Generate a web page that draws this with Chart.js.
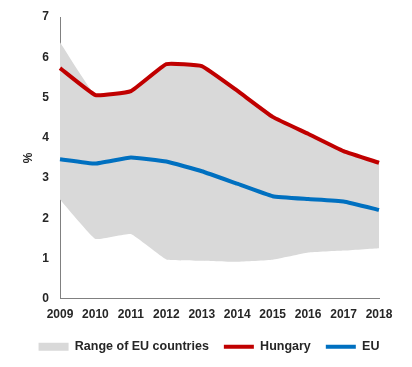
<!DOCTYPE html>
<html>
<head>
<meta charset="utf-8">
<script src="https://cdn.jsdelivr.net/npm/chart.js@4"></script>
<style>
  body { margin: 0; background: #fff; }
  #wrap { width: 412px; height: 367px; }
</style>
</head>
<body>
<div id="wrap"><canvas id="rateChart"></canvas></div>
<script>
"use strict";

const years = ['2009', '2010', '2011', '2012', '2013', '2014', '2015', '2016', '2017', '2018'];
const hungary = [5.73, 5.06, 5.16, 5.83, 5.78, 5.17, 4.52, 4.10, 3.67, 3.38];
const eu = [3.47, 3.36, 3.51, 3.41, 3.17, 2.86, 2.55, 2.48, 2.42, 2.21];
const rangeHigh = [6.37, 5.06, 5.16, 5.83, 5.78, 5.17, 4.52, 4.10, 3.67, 3.38];
const rangeLow = [2.47, 1.49, 1.61, 0.98, 0.95, 0.92, 0.97, 1.15, 1.20, 1.26];
const yTicks = [0, 1, 2, 3, 4, 5, 6, 7];

const textColor = '#262626';
const font = { family: "'Liberation Sans', Arial, sans-serif", size: 12, weight: 'bold' };
const legendFont = { family: "'Liberation Sans', Arial, sans-serif", size: 12.5, weight: 'bold' };

const ctx = document.getElementById('rateChart').getContext('2d');
const myChart = new Chart(ctx, {
  type: 'line',
  data: {
    labels: years,
    datasets: [{
      label: 'Range of EU countries',
      data: rangeHigh,
      borderWidth: 0,
      pointRadius: 0,
      backgroundColor: '#d9d9d9',
      fill: '+1',
      tension: 0.1,
    },
    {
      label: 'low',
      data: rangeLow,
      borderWidth: 0,
      pointRadius: 0,
      fill: false,
      tension: 0.1,
    },
    {
      label: 'Hungary',
      data: hungary,
      borderColor: '#c00000',
      borderWidth: 4,
      pointRadius: 0,
      fill: false,
      tension: 0.1,
    },
    {
      label: 'EU',
      data: eu,
      borderColor: '#0070c0',
      borderWidth: 4,
      pointRadius: 0,
      fill: false,
      tension: 0.1,
    }]
  },
  options: {
    responsive: true,
    maintainAspectRatio: false,
    animation: false,
    layout: { padding: { left: 13, right: 7, top: 17, bottom: 4 } },
    scales: {
      x: {
        grid: { display: false },
        border: { display: true, color: '#808080', width: 1 },
        ticks: { color: textColor, font: font, padding: 1, maxRotation: 0, autoSkip: false },
        afterFit: (axis) => { axis.paddingRight = 33; }
      },
      y: {
        min: 0,
        max: 7,
        afterBuildTicks: (axis) => { axis.ticks = yTicks.map(v => ({ value: v })); },
        afterFit: (axis) => { axis.width = 47; },
        grid: { display: false },
        border: { display: true, color: '#808080', width: 1 },
        ticks: { color: textColor, font: font, padding: 3 },
        title: { display: true, text: '%', color: textColor, font: font, padding: { top: 8, bottom: 4 } }
      }
    },
    plugins: {
      filler: { drawTime: 'beforeDatasetsDraw' },
      tooltip: { enabled: false },
      legend: {
        position: 'bottom',
        title: { display: true, text: ' ', font: { size: 1 }, padding: { top: 0, bottom: 1 } },
        labels: {
          color: textColor,
          font: legendFont,
          padding: 15,
          usePointStyle: true,
          pointStyleWidth: 30,
          generateLabels: (chart) => {
            const sets = chart.data.datasets;
            return [
              { text: sets[0].label, pointStyle: 'line', strokeStyle: '#d9d9d9', fillStyle: '#d9d9d9', lineWidth: 8, fontColor: textColor, datasetIndex: 0 },
              { text: sets[2].label, pointStyle: 'line', strokeStyle: '#c00000', fillStyle: '#c00000', lineWidth: 4, fontColor: textColor, datasetIndex: 2 },
              { text: sets[3].label, pointStyle: 'line', strokeStyle: '#0070c0', fillStyle: '#0070c0', lineWidth: 4, fontColor: textColor, datasetIndex: 3 }
            ];
          }
        }
      }
    }
  }
});
</script>
</body>
</html>
